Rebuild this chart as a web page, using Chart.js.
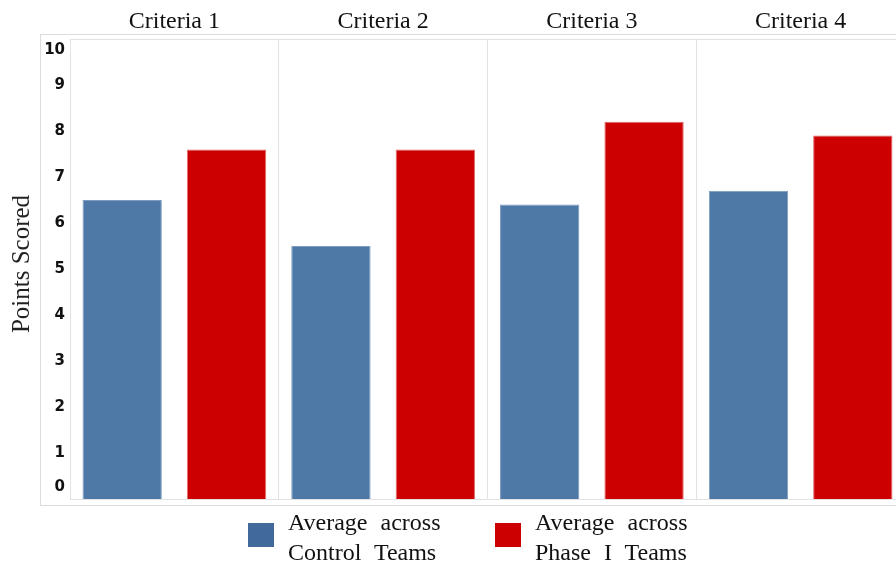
<!DOCTYPE html>
<html>
<head>
<meta charset="utf-8">
<script src="https://cdn.jsdelivr.net/npm/chart.js@4"></script>
<style>
  html, body { margin: 0; padding: 0; background: #fff; overflow: hidden; }
  #wrap { position: relative; width: 896px; height: 562px; overflow: hidden; }
  #chart { position: absolute; left: 0; top: 0; }
  .legend-box { position: absolute; width: 26px; height: 24px; top: 523px; }
  .legend-text {
    position: absolute; top: 507px;
    font: 24px "Liberation Serif", "Times New Roman", serif;
    line-height: 30px; color: #111; word-spacing: 7px; white-space: nowrap;
  }
</style>
</head>
<body>
<div id="wrap">
  <canvas id="chart" width="910" height="562"></canvas>
  <div id="legend"></div>
</div>
<script>
const categories = ["Criteria 1", "Criteria 2", "Criteria 3", "Criteria 4"];
const controlScores = [6.5, 5.5, 6.4, 6.7];
const phaseOneScores = [7.6, 7.6, 8.2, 7.9];
const seriesLabels = [["Average across", "Control Teams"], ["Average across", "Phase I Teams"]];
const yTicks = [0, 1, 2, 3, 4, 5, 6, 7, 8, 9, 10];

const blue = "#4e79a7";
const red = "#cc0000";
const gridColor = "#e2e2e2";

// frame lines, y tick labels and y title drawn against the y scale
const framePlugin = {
    id: "frame",
    beforeDraw(chart) {
        const ctx = chart.ctx;
        const area = chart.chartArea;
        ctx.save();
        ctx.strokeStyle = "#dcdcdc";
        ctx.lineWidth = 1;
        ctx.strokeRect(40.5, 34.5, chart.width, 471);
        ctx.strokeStyle = gridColor;
        ctx.beginPath();
        ctx.moveTo(area.left, Math.round(area.bottom) + 0.5);
        ctx.lineTo(area.right, Math.round(area.bottom) + 0.5);
        ctx.stroke();
        ctx.restore();
    },
    afterDraw(chart) {
        const ctx = chart.ctx;
        const y = chart.scales.y;
        ctx.save();
        ctx.fillStyle = "#111";
        ctx.font = "bold 15px 'DejaVu Sans', Verdana, sans-serif";
        ctx.textAlign = "right";
        ctx.textBaseline = "middle";
        yTicks.forEach(v => {
            let py = y.getPixelForValue(v);
            py = Math.min(Math.max(py, y.top + 11), y.bottom - 11.5);
            ctx.fillText(String(v), 65, py);
        });
        ctx.translate(22, (y.top + y.bottom) / 2 - 5);
        ctx.rotate(-Math.PI / 2);
        ctx.textAlign = "center";
        ctx.font = "25px 'Liberation Serif', 'Times New Roman', serif";
        ctx.fillStyle = "#222";
        ctx.fillText("Points Scored", 0, 0);
        ctx.restore();
    }
};

const chart = new Chart(document.getElementById("chart"), {
    type: "bar",
    data: {
        labels: categories,
        datasets: [
            {
                label: seriesLabels[0].join(" "),
                data: controlScores,
                backgroundColor: blue,
                borderColor: "#7d9cc0",
                borderWidth: 1,
            },
            {
                label: seriesLabels[1].join(" "),
                data: phaseOneScores,
                backgroundColor: red,
                borderColor: "#e06a6a",
                borderWidth: 1,
            }
        ]
    },
    options: {
        responsive: false,
        animation: false,
        devicePixelRatio: 1,
        categoryPercentage: 1.0,
        barPercentage: 0.76,
        layout: { padding: { left: 0, top: 0, right: 5, bottom: 63 } },
        scales: {
            x: {
                position: "top",
                grid: { color: gridColor, offset: true, drawTicks: false },
                border: { color: gridColor },
                ticks: {
                    color: "#111",
                    padding: 3,
                    font: { family: "'Liberation Serif', 'Times New Roman', serif", size: 24 }
                },
                afterFit(scale) { scale.height = 39; }
            },
            y: {
                min: 0,
                max: 10,
                grid: { display: false },
                border: { color: gridColor },
                ticks: { display: false, stepSize: 1 },
                afterFit(scale) { scale.width = 70; }
            }
        },
        plugins: {
            legend: { display: false },
            tooltip: { enabled: false }
        }
    },
    plugins: [framePlugin]
});

// HTML legend built from the datasets
const legend = document.getElementById("legend");
const legendBoxX = [248, 495];
const legendTextX = [288, 535];
chart.data.datasets.forEach((ds, i) => {
    const box = document.createElement("div");
    box.className = "legend-box";
    box.style.left = legendBoxX[i] + "px";
    box.style.background = i === 0 ? "#41699a" : ds.backgroundColor;
    legend.appendChild(box);
    const txt = document.createElement("div");
    txt.className = "legend-text";
    txt.style.left = legendTextX[i] + "px";
    txt.innerHTML = seriesLabels[i].join("<br>");
    legend.appendChild(txt);
});
</script>
</body>
</html>
